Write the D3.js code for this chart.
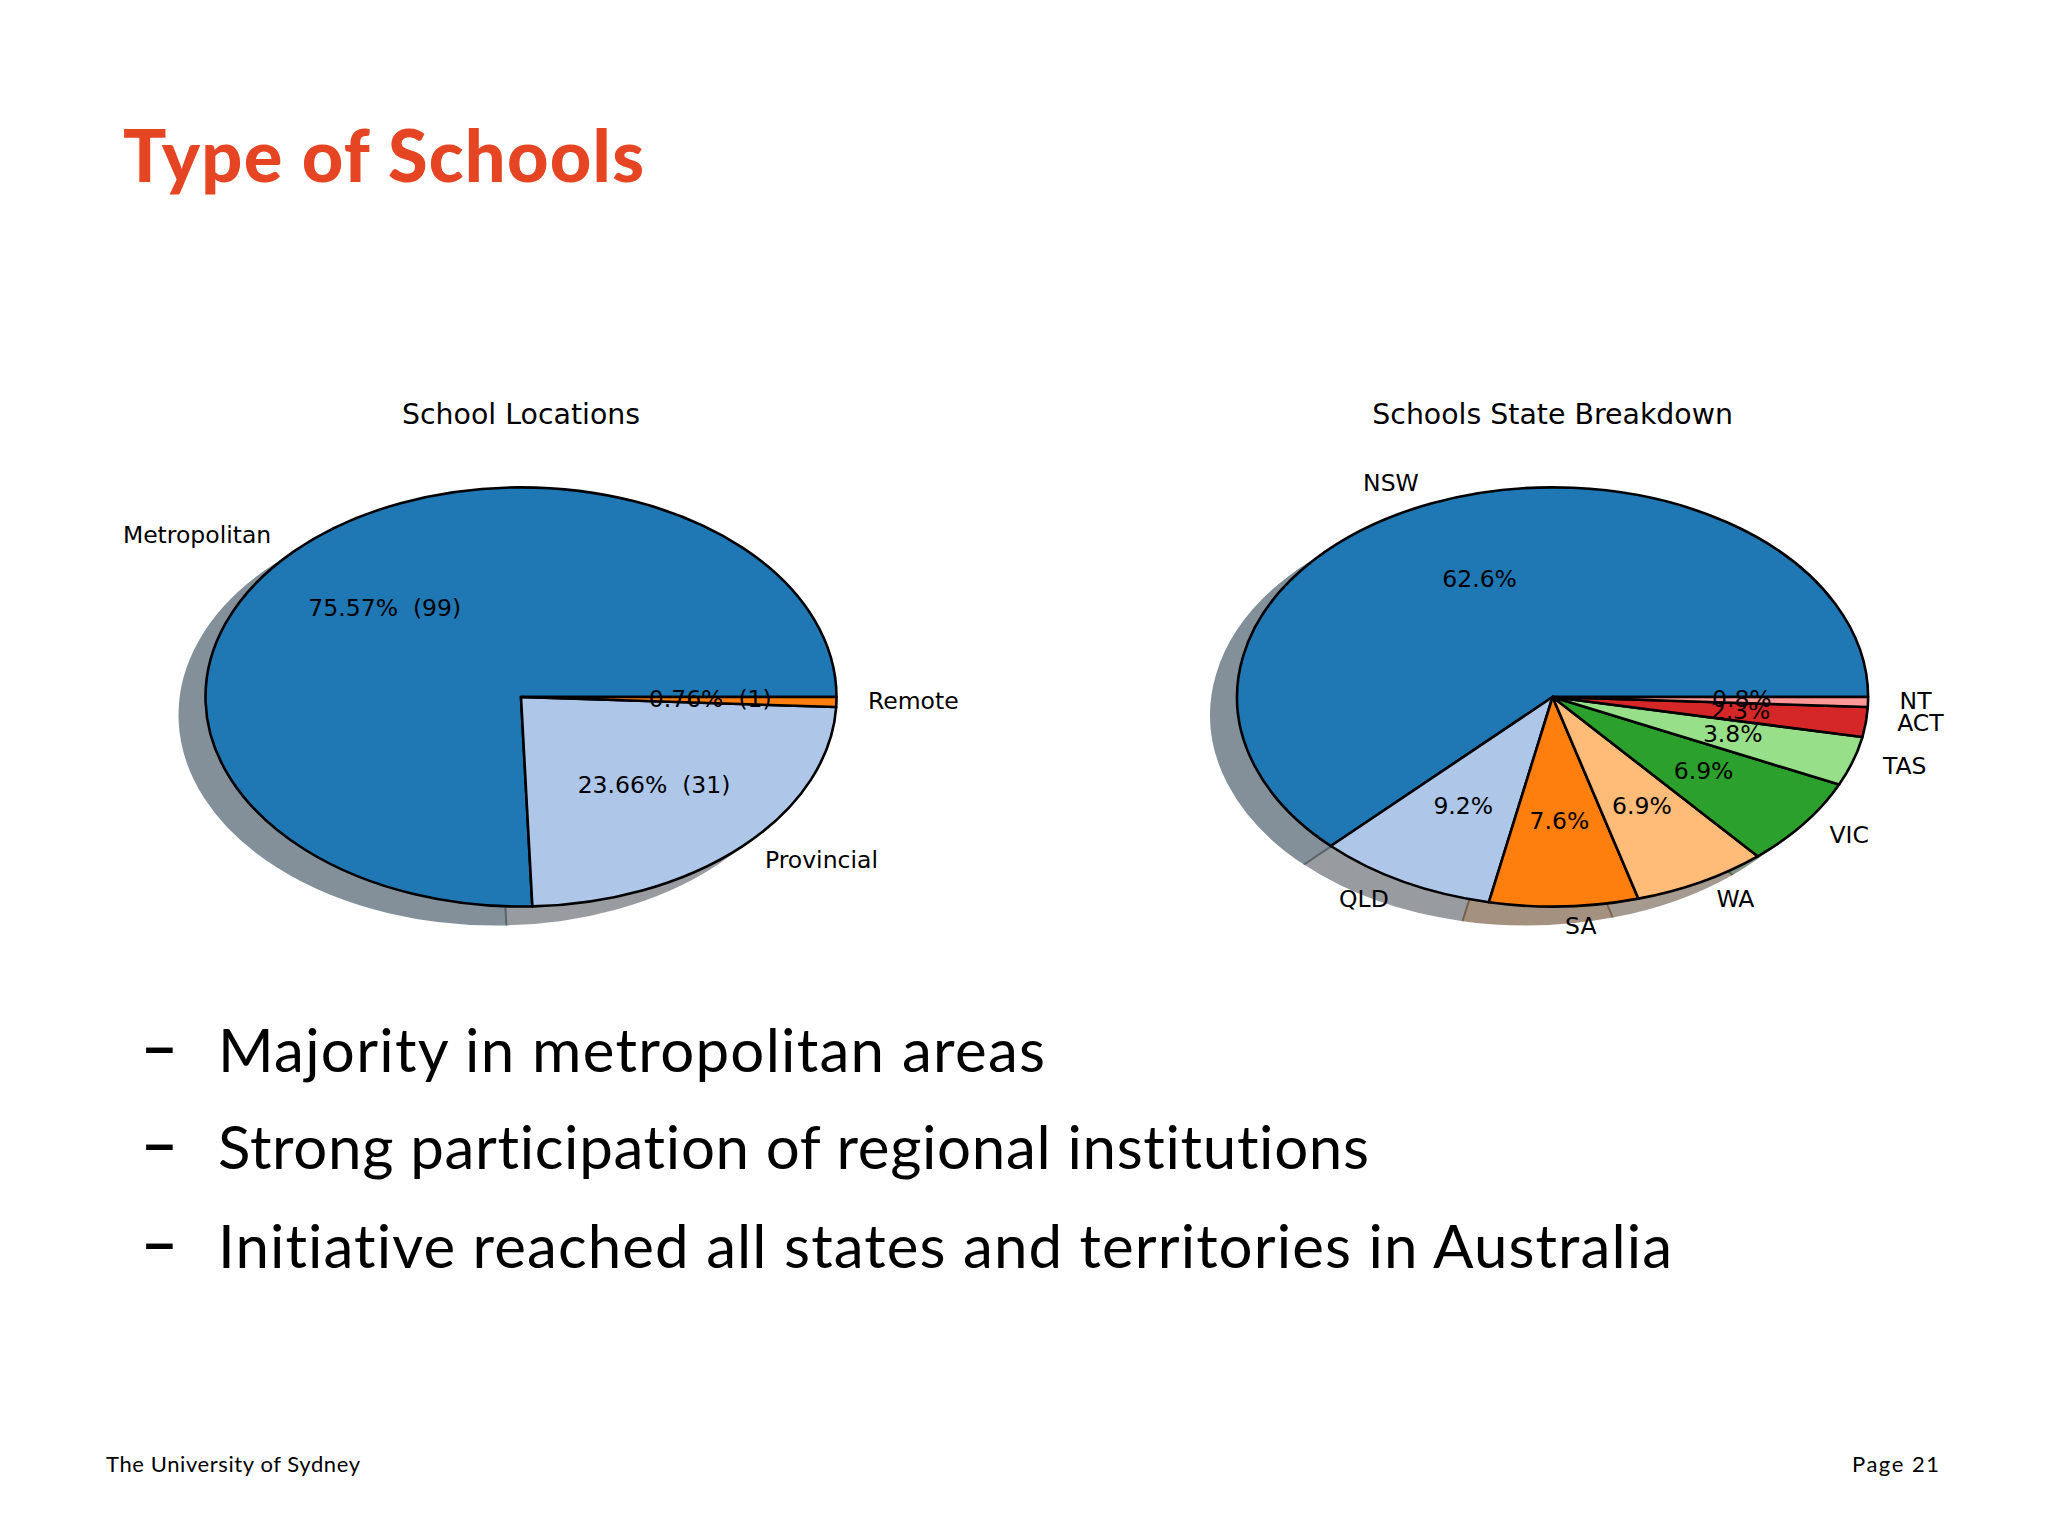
<html>
<head>
<meta charset="utf-8">
<script src="https://cdn.jsdelivr.net/npm/d3@7"></script>
<style>
  body { margin: 0; background: #fff; }
  text { fill: #000; }
  .pie-text { font-family: "DejaVu Sans"; font-size: 23.5px; }
  .pie-title { font-family: "DejaVu Sans"; font-size: 28.4px; }
  .slide { font-family: Lato; font-variant-ligatures: none; }
</style>
</head>
<body>
<script>

const locationLabels = ['Metropolitan', 'Provincial', 'Remote'];
const locationValues = [99, 31, 1];
const locationColors = ['#1f77b4', '#aec7e8', '#ff7f0e'];

const stateLabels = ['NSW', 'QLD', 'SA', 'WA', 'VIC', 'TAS', 'ACT', 'NT'];
const stateValues = [82, 12, 10, 9, 9, 5, 3, 1];
const stateColors = ['#1f77b4', '#aec7e8', '#ff7f0e', '#ffbb78', '#2ca02c', '#98df8a', '#d62728', '#ff9896'];

const bullets = [
	'Majority in metropolitan areas',
	'Strong participation of regional institutions',
	'Initiative reached all states and territories in Australia'
];

const width = 2048;
const height = 1536;

const rx = 315.5;
const ry = 209.6;

const svg = d3.select('body').append('svg')
	.attr('width', width)
	.attr('height', height)
	.style('display', 'block');

// the slide text
svg.append('text').attr('class', 'slide')
	.attr('x', 123).attr('y', 182)
	.attr('textLength', 521)
	.style('font-size', '72px').style('font-weight', 900)
	.style('fill', '#e64524')
	.text('Type of Schools');

const bulletWidths = [827, 1151, 1454];
const bulletBase = [1071.5, 1168.5, 1267.5];
bullets.forEach(function(b, i) {
	svg.append('text').attr('class', 'slide')
		.attr('x', 142).attr('y', bulletBase[i] - 2)
		.style('font-size', '60px').style('font-weight', 700)
		.text('\u2212');
	svg.append('text').attr('class', 'slide')
		.attr('x', 218).attr('y', bulletBase[i])
		.attr('textLength', bulletWidths[i])
		.style('font-size', '60px')
		.text(b);
});

svg.append('text').attr('class', 'slide')
	.attr('x', 106).attr('y', 1472)
	.attr('textLength', 254)
	.style('font-size', '22px')
	.text('The University of Sydney');

svg.append('text').attr('class', 'slide')
	.attr('x', 1852).attr('y', 1472)
	.attr('textLength', 87)
	.style('font-size', '22px')
	.text('Page 21');

function drawPie(cx, cy, title, labels, values, colors, pctText) {
	const total = d3.sum(values);

	// same as matplotlib, counter clockwise from 3 o'clock
	const pie = d3.pie().sort(null)
		.startAngle(Math.PI / 2)
		.endAngle(Math.PI / 2 - 2 * Math.PI);
	const arcs = pie(values);
	const arc = d3.arc().innerRadius(0).outerRadius(1);

	const xScale = d3.scaleLinear().domain([-1, 1]).range([cx - rx, cx + rx]);
	const yScale = d3.scaleLinear().domain([-1, 1]).range([cy - ry, cy + ry]);

	const g = svg.append('g');

	g.append('text').attr('class', 'pie-title')
		.attr('x', cx).attr('y', 414)
		.attr('text-anchor', 'middle')
		.attr('dominant-baseline', 'central')
		.text(title);

	const ellipse = `translate(${cx}, ${cy}) scale(${rx}, ${ry})`;

	g.selectAll('.shadow')
		.data(arcs)
		.enter()
		.append('path')
		.attr('class', 'shadow')
		.attr('d', arc)
		.attr('transform', `translate(-26, 18) ${ellipse}`)
		.attr('vector-effect', 'non-scaling-stroke')
		.attr('fill', (d, i) => shade(colors[i]))
		.attr('stroke', (d, i) => shade(colors[i]))
		.attr('stroke-width', 2)
		.attr('opacity', 0.5);

	g.selectAll('.wedge')
		.data(arcs)
		.enter()
		.append('path')
		.attr('class', 'wedge')
		.attr('d', arc)
		.attr('transform', ellipse)
		.attr('vector-effect', 'non-scaling-stroke')
		.attr('fill', (d, i) => colors[i])
		.attr('stroke', '#000')
		.attr('stroke-width', 2.6)
		.attr('stroke-linejoin', 'round');

	// d3 angles run clockwise from 12 o'clock
	const mid = (d) => (d.startAngle + d.endAngle) / 2;
	const px = (d, r) => xScale(r * Math.sin(mid(d)));
	const py = (d, r) => yScale(-r * Math.cos(mid(d))) - 1.5;

	g.selectAll('.label')
		.data(arcs)
		.enter()
		.append('text')
		.attr('class', 'label pie-text')
		.attr('x', (d) => px(d, 1.1))
		.attr('y', (d) => py(d, 1.1))
		.attr('text-anchor', (d) => Math.sin(mid(d)) > 0 ? 'start' : 'end')
		.attr('dominant-baseline', 'central')
		.text((d, i) => labels[i]);

	g.selectAll('.pct')
		.data(arcs)
		.enter()
		.append('text')
		.attr('class', 'pct pie-text')
		.attr('x', (d) => px(d, 0.6))
		.attr('y', (d) => py(d, 0.6))
		.attr('text-anchor', 'middle')
		.attr('dominant-baseline', 'central')
		.text((d) => pctText(d.value, total));
}

function shade(color) {
	const c = d3.rgb(color);
	return d3.rgb(c.r * 0.3, c.g * 0.3, c.b * 0.3).formatRgb();
}

drawPie(521, 697, 'School Locations', locationLabels, locationValues, locationColors,
	(v, total) => `${(v / total * 100).toFixed(2)}%\u00a0\u00a0(${v})`);

drawPie(1552.6, 697, 'Schools State Breakdown', stateLabels, stateValues, stateColors,
	(v, total) => `${(v / total * 100).toFixed(1)}%`);

</script>
</body>
</html>
